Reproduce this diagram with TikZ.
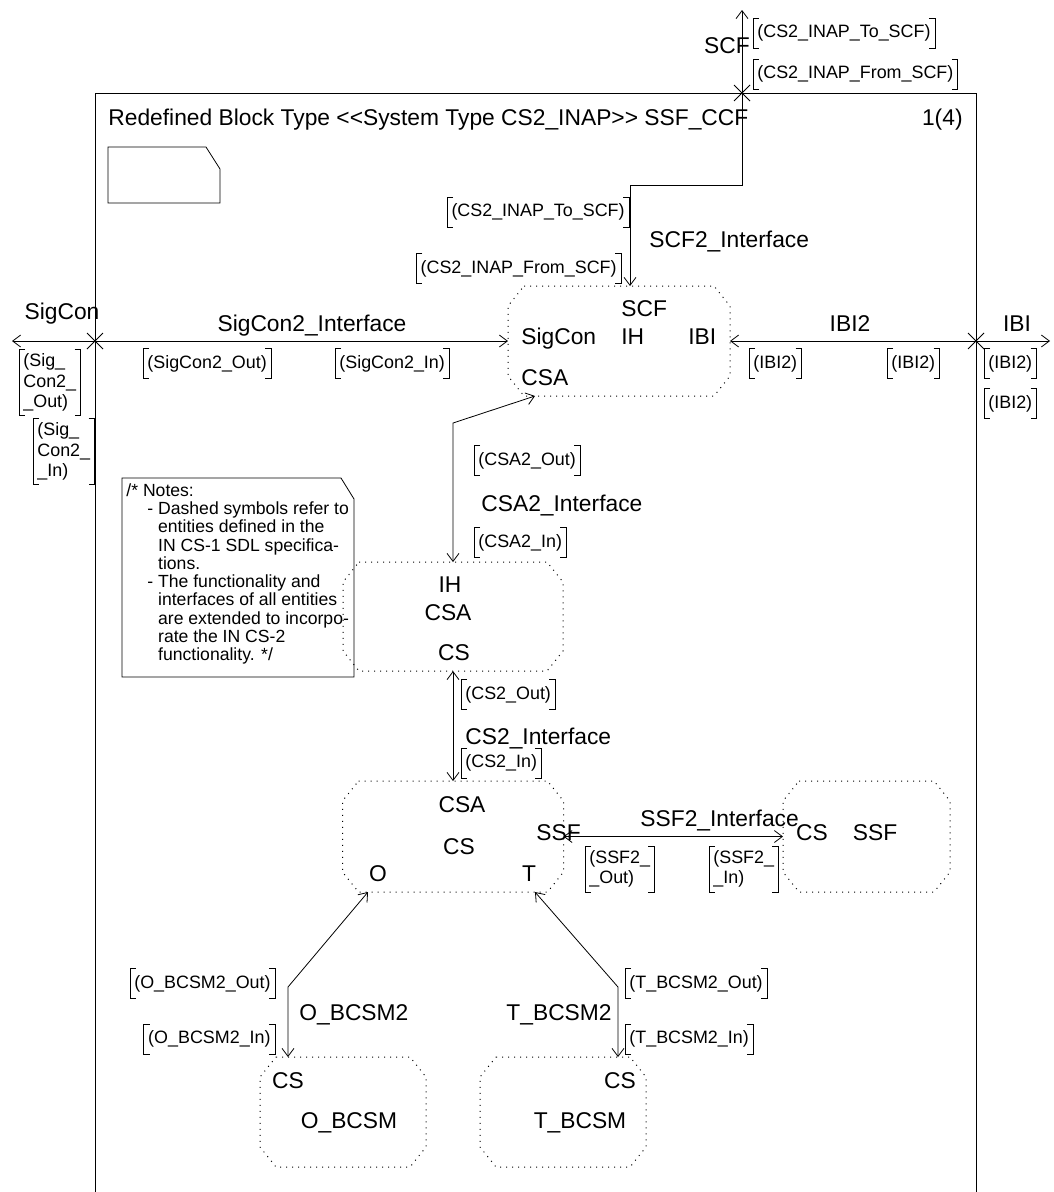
\documentclass[tikz,border=0pt]{standalone}
\usepackage{fontspec}
\setmainfont{Liberation Sans}
\usetikzlibrary{arrows.meta}
\newcommand{\blk}[5]{\node[blkbox,minimum width=#4pt,minimum height=#5pt] (#1) at (#2,#3) {};
  \draw[dotline] ([xshift=16pt]#1.north west) -- ([xshift=-16pt]#1.north east) -- ([yshift=-20pt]#1.north east)
    -- ([yshift=20pt]#1.south east) -- ([xshift=-16pt]#1.south east) -- ([xshift=16pt]#1.south west)
    -- ([yshift=20pt]#1.south west) -- ([yshift=-20pt]#1.north west) -- cycle; }
\newcommand{\sig}[4]{\node[sigl,anchor=#2] (#1) at (#3) {#4};
  \draw ([xshift=6pt]#1.north west) -| (#1.south west) -- ++(6pt,0)
        ([xshift=-6pt]#1.north east) -| (#1.south east) -- ++(-6pt,0); }
\newcommand{\xmark}[1]{\draw ([shift={(-8pt,-8pt)}]#1) -- ([shift={(8pt,8pt)}]#1) ([shift={(-8pt,8pt)}]#1) -- ([shift={(8pt,-8pt)}]#1); }

\begin{document}
\begin{tikzpicture}[x=1pt,y=-1pt,line width=0.8pt,>={Straight Barb[length=8pt,width=12pt]},
  chan/.style={<->},
  lab/.style={font=\fontsize{22.8}{24}\selectfont,inner sep=0pt,text height=16.3pt,text depth=0pt},
  sigl/.style={font=\fontsize{17.9}{20.5}\selectfont,align=left,inner xsep=4pt,inner ysep=4pt,minimum height=29pt},
  blkbox/.style={rectangle,inner sep=0pt,outer sep=0pt},
  dotline/.style={line width=1pt,dash pattern=on 1pt off 5pt},
  notetext/.style={font=\fontsize{17.6}{18.3}\selectfont,align=left,inner sep=0pt}]
  \useasboundingbox (0,0) rectangle (1053,1192);
  % frame, heading and page symbol
  \draw (95,1192) |- (976,93) -- (976,1192);
  \node[lab,anchor=west] (title) at (108,117) {Redefined Block Type <\kern0pt<System Type CS2\_INAP>\kern0pt> SSF\_CCF};
  \node[lab,anchor=east] (page) at (963,117) {1(4)};
  \draw (108,147) -- (206,147) -- (220,169) -- (220,203) -- (108,203) -- cycle;
  % blocks
  \blk{ih}{619}{341}{222}{110}
  \blk{csa}{453}{616.5}{220}{109}
  \blk{cs}{453}{836.5}{221}{111}
  \blk{ssf}{866.5}{836.5}{167}{111}
  \blk{obcsm}{343}{1112}{166}{110}
  \blk{tbcsm}{563}{1112}{166}{110}
  \node[lab,anchor=west] (ihscf) at (621,308) {SCF};
  \node[lab,anchor=west] (ihsig) at (521,336) {SigCon};
  \node[lab,anchor=west] (ihname) at (621,336) {IH};
  \node[lab,anchor=west] (ihibi) at (688,336) {IBI};
  \node[lab,anchor=west] (ihcsa) at (521,377) {CSA};
  \node[lab] (csaih) at (450,584) {IH};
  \node[lab] (csaname) at (448,612) {CSA};
  \node[lab] (csacs) at (454,652) {CS};
  \node[lab] (cscsa) at (462,804) {CSA};
  \node[lab] (csname) at (459,846) {CS};
  \node[lab] (cso) at (378,873) {O};
  \node[lab] (cst) at (529,873) {T};
  \node[lab,anchor=west] (csssf) at (536,832) {SSF};
  \node[lab] (ssfcs) at (812,832) {CS};
  \node[lab] (ssfname) at (875,832) {SSF};
  \node[lab] (ocs) at (288,1080) {CS};
  \node[lab] (oname) at (349,1120) {O\_BCSM};
  \node[lab] (tcs) at (620,1080) {CS};
  \node[lab] (tname) at (580,1120) {T\_BCSM};
  % channels
  \coordinate (scfout) at (742,10);
  \coordinate (scfx) at (742,93);
  \coordinate (scfbend) at (742,185);
  \coordinate (sigout) at (12,341);
  \coordinate (sigx) at (95,341);
  \coordinate (ibiout) at (1050,341);
  \coordinate (ibix) at (976,341);
  \coordinate (csabend) at (453,423);
  \coordinate (obend) at (288,987);
  \coordinate (tbend) at (618,987);
  \draw[chan] (scfout) -- (scfbend) -| ([xshift=11pt]ih.north);
  \draw[chan] (sigout) -- (ih.west);
  \draw[chan] (ih.east) -- (ibiout);
  \draw[chan] ([xshift=-84pt]ih.south) -- (csabend) -- (csa.north);
  \draw[chan] (csa.south) -- (cs.north);
  \draw[chan] (cs.east) -- (ssf.west);
  \draw[chan] ([xshift=-85pt]cs.south) -- (obend) -- ([xshift=-55pt]obcsm.north);
  \draw[chan] ([xshift=82pt]cs.south) -- (tbend) -- ([xshift=55pt]tbcsm.north);
  \xmark{scfx} \xmark{sigx} \xmark{ibix}
  \node[lab] (scfext) at (727,45) {SCF};
  \node[lab,anchor=west] (scfif) at (649,239) {SCF2\_Interface};
  \node[lab] (sigext) at (62,311) {SigCon};
  \node[lab] (sigif) at (312,323) {SigCon2\_Interface};
  \node[lab] (ibiif) at (850,323) {IBI2};
  \node[lab] (ibiext) at (1017,323) {IBI};
  \node[lab,anchor=west] (csaif) at (481,503) {CSA2\_Interface};
  \node[lab,anchor=west] (csif) at (465,736) {CS2\_Interface};
  \node[lab,anchor=west] (ssfif) at (640,818) {SSF2\_Interface};
  \node[lab,anchor=west] (oif) at (299,1012) {O\_BCSM2};
  \node[lab,anchor=east] (tif) at (612,1012) {T\_BCSM2};
  % signal lists
  \sig{toscfx}{west}{753,33}{(CS2\_INAP\_To\_SCF)}
  \sig{fromscfx}{west}{753,74}{(CS2\_INAP\_From\_SCF)}
  \sig{toscf}{east}{629,212}{(CS2\_INAP\_To\_SCF)}
  \sig{fromscf}{east}{621,268.5}{(CS2\_INAP\_From\_SCF)}
  \sig{sigconout}{west}{143,363.5}{(SigCon2\_Out)}
  \sig{sigconin}{west}{335,363.5}{(SigCon2\_In)}
  \sig{sigconoutx}{west}{19,382.5}{(Sig\_\\Con2\_\\\_Out)}
  \sig{sigconinx}{west}{33,451.5}{(Sig\_\\Con2\_\\\_In)}
  \sig{ibia}{west}{749,363.5}{(IBI2)}
  \sig{ibib}{west}{887,363.5}{(IBI2)}
  \sig{ibixa}{west}{984,363.5}{(IBI2)}
  \sig{ibixb}{west}{984,403.5}{(IBI2)}
  \sig{csaout}{west}{474,460.5}{(CSA2\_Out)}
  \sig{csain}{west}{474,542.5}{(CSA2\_In)}
  \sig{csout}{west}{461,694.5}{(CS2\_Out)}
  \sig{csin}{west}{461,763}{(CS2\_In)}
  \sig{ssfout}{west}{585,869}{(SSF2\_\\\_Out)}
  \sig{ssfin}{west}{709,869}{(SSF2\_\\\_In)}
  \sig{oout}{east}{275,983.5}{(O\_BCSM2\_Out)}
  \sig{oin}{east}{275,1039}{(O\_BCSM2\_In)}
  \sig{tout}{west}{625,983.5}{(T\_BCSM2\_Out)}
  \sig{tin}{west}{625,1039}{(T\_BCSM2\_In)}
  % comment
  \draw (122,478) -- (341,478) -- (354,499) -- (354,677) -- (122,677) -- cycle;
  \node[notetext,anchor=north west] (notes) at (126,483) {/* Notes:\\
    \hspace*{21pt}- Dashed symbols refer to\\
    \hspace*{21pt}\phantom{- }entities defined in the\\
    \hspace*{21pt}\phantom{- }IN CS-1 SDL specifica-\\
    \hspace*{21pt}\phantom{- }tions.\\
    \hspace*{21pt}- The functionality and\\
    \hspace*{21pt}\phantom{- }interfaces of all entities\\
    \hspace*{21pt}\phantom{- }are extended to incorpo-\\
    \hspace*{21pt}\phantom{- }rate the IN CS-2\\
    \hspace*{21pt}\phantom{- }functionality. */};
\end{tikzpicture}
\end{document}
